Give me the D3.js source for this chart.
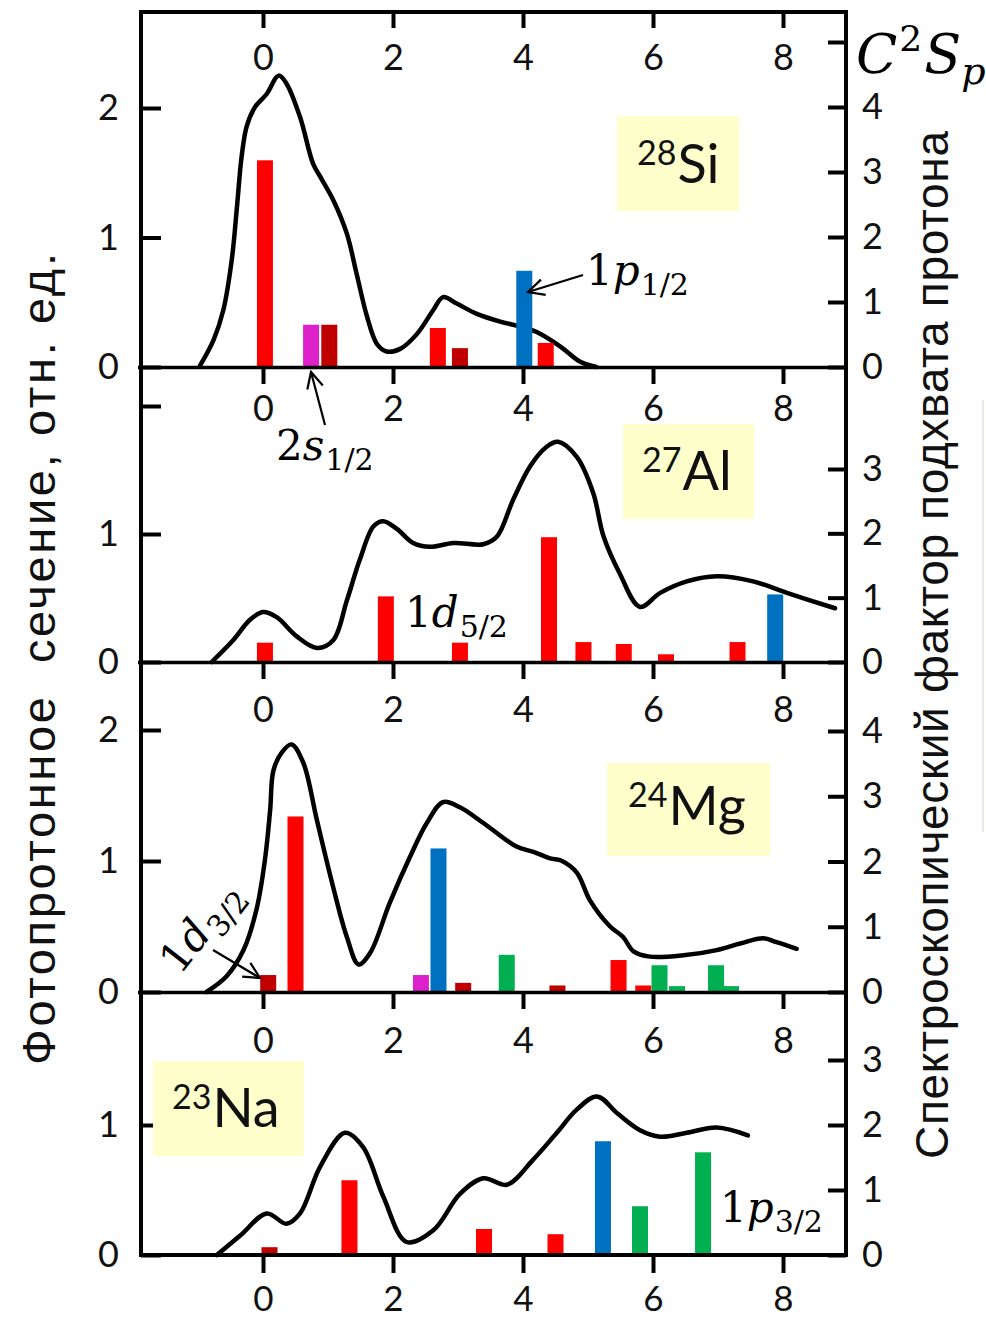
<!DOCTYPE html>
<html><head><meta charset="utf-8">
<script src="https://cdn.jsdelivr.net/npm/d3@7"></script>
<style>
html,body{margin:0;padding:0;background:#fff;}
svg{display:block;}
</style></head>
<body>
<svg id="chart" width="986" height="1317"></svg>
<script>
// ---------------- DATA ----------------
const xTicks = [0, 2, 4, 6, 8];
const shellNames = ["1d5/2", "1d3/2", "2s1/2", "1p1/2", "1p3/2"];
const shellColors = ["#ff0000", "#c00000", "#dd22cc", "#0070c0", "#00b050"];

// 28Si
const siCurveE = [-0.97,-0.76,-0.61,-0.48,-0.40,-0.33,-0.25,-0.12,0.06,0.24,0.36,0.57,0.77,0.88,1.08,1.29,1.44,1.60,1.75,1.90,2.11,2.36,2.62,2.77,2.98,3.29,3.65,3.90,4.05,4.21,4.57,4.88,5.13];
const siCurveV = [0.01,0.21,0.44,0.83,1.24,1.62,1.86,2.01,2.11,2.25,2.19,1.93,1.57,1.47,1.29,1.03,0.72,0.39,0.18,0.12,0.14,0.25,0.44,0.54,0.49,0.41,0.35,0.32,0.30,0.27,0.16,0.04,0.0];
const siBarE = [0.03,0.74,1.02,2.69,3.03,4.02,4.35];
const siBarC = [3.18,0.65,0.65,0.60,0.29,1.48,0.37];
const siBarShell = ["1d5/2","2s1/2","1d3/2","1d5/2","1d3/2","1p1/2","1d5/2"];

// 27Al
const alCurveE = [-0.79,-0.46,-0.20,0.0,0.21,0.52,0.83,1.08,1.29,1.49,1.70,1.85,2.06,2.31,2.57,2.93,3.39,3.60,3.85,4.11,4.36,4.54,4.83,5.08,5.24,5.49,5.80,6.11,6.52,6.98,7.54,8.06,8.80];
const alCurveV = [0.0,0.17,0.33,0.39,0.35,0.20,0.11,0.17,0.48,0.80,1.06,1.10,1.04,0.93,0.90,0.93,0.92,0.98,1.27,1.53,1.68,1.72,1.60,1.32,0.98,0.69,0.43,0.54,0.63,0.67,0.63,0.54,0.42];
const alBarE = [0.03,1.89,3.03,4.40,4.93,5.55,6.20,7.30,7.88];
const alBarC = [0.30,1.02,0.30,1.94,0.31,0.28,0.12,0.31,1.05];
const alBarShell = ["1d5/2","1d5/2","1d5/2","1d5/2","1d5/2","1d5/2","1d5/2","1d5/2","1p1/2"];

// 24Mg
const mgCurveE = [-0.87,-0.56,-0.30,-0.10,0.03,0.11,0.16,0.29,0.44,0.62,0.83,1.08,1.29,1.47,1.65,1.95,2.26,2.52,2.77,3.03,3.39,3.90,4.16,4.42,4.60,4.83,5.03,5.34,5.54,5.70,5.95,6.47,6.98,7.34,7.70,7.90,8.21];
const mgCurveV = [0.0,0.12,0.32,0.63,1.01,1.39,1.69,1.83,1.89,1.75,1.31,0.80,0.42,0.21,0.30,0.68,1.03,1.29,1.45,1.41,1.29,1.11,1.07,1.02,1.00,0.91,0.70,0.50,0.42,0.31,0.27,0.28,0.32,0.37,0.41,0.38,0.33];
const mgBarE = [0.08,0.50,2.43,2.70,3.08,3.75,4.53,5.47,5.85,6.10,6.37,6.97,7.20];
const mgBarC = [0.26,2.69,0.26,2.20,0.14,0.57,0.10,0.49,0.10,0.41,0.09,0.41,0.09];
const mgBarShell = ["1d3/2","1d5/2","2s1/2","1p1/2","1d3/2","1p3/2","1d3/2","1d5/2","1d5/2","1p3/2","1p3/2","1p3/2","1p3/2"];

// 23Na
const naCurveE = [-0.71,-0.35,0.06,0.36,0.57,0.88,1.26,1.54,1.85,2.21,2.62,3.03,3.39,3.75,4.15,4.52,4.83,5.14,5.45,5.80,6.11,6.52,6.98,7.46];
const naCurveV = [0.0,0.15,0.32,0.24,0.32,0.68,0.94,0.83,0.45,0.10,0.19,0.47,0.59,0.54,0.73,0.94,1.12,1.22,1.09,0.96,0.91,0.94,0.98,0.92];
const naBarE = [0.10,1.33,3.40,4.50,5.23,5.80,6.77];
const naBarC = [0.12,1.15,0.40,0.32,1.75,0.75,1.58];
const naBarShell = ["1d3/2","1d5/2","1d5/2","1d5/2","1p1/2","1p3/2","1p3/2"];

const leftTicksSi = [0,1,2], rightTicksSi = [0,1,2,3,4,5];
const leftTicksAl = [0,1,2], rightTicksAl = [0,1,2,3];
const leftTicksMg = [0,1,2], rightTicksMg = [0,1,2,3,4];
const leftTicksNa = [0,1],   rightTicksNa = [0,1,2,3];

// ---------------- LAYOUT ----------------
const svg = d3.select("#chart");
const FL = 141, FR = 846, FT = 12;
const x = d3.scaleLinear().domain([0, 8]).range([263, 783]);
const color = d3.scaleOrdinal().domain(shellNames).range(shellColors);
const tickFont = "Lato, 'Open Sans', sans-serif";

const panels = [
  {name:"Si", top:FT,  base:367,  lMax:2, lPx:108,  rMax:4, rPx:107,  cE:siCurveE, cV:siCurveV, bE:siBarE, bC:siBarC, bS:siBarShell, lT:leftTicksSi, rT:rightTicksSi, rLabelSkip:[5], lLabelSkip:[], xPad:16},
  {name:"Al", top:368, base:662,  lMax:1, lPx:534,  rMax:3, rPx:469,  cE:alCurveE, cV:alCurveV, bE:alBarE, bC:alBarC, bS:alBarShell, lT:leftTicksAl, rT:rightTicksAl, rLabelSkip:[], lLabelSkip:[2], xPad:11},
  {name:"Mg", top:663, base:992,  lMax:2, lPx:730,  rMax:4, rPx:731,  cE:mgCurveE, cV:mgCurveV, bE:mgBarE, bC:mgBarC, bS:mgBarShell, lT:leftTicksMg, rT:rightTicksMg, rLabelSkip:[], lLabelSkip:[], xPad:17},
  {name:"Na", top:993, base:1255, lMax:1, lPx:1125, rMax:3, rPx:1060, cE:naCurveE, cV:naCurveV, bE:naBarE, bC:naBarC, bS:naBarShell, lT:leftTicksNa, rT:rightTicksNa, rLabelSkip:[], lLabelSkip:[], xPad:18}
];

// faint scan artefact line at right
svg.append("line").attr("x1",983).attr("x2",983).attr("y1",400).attr("y2",832)
  .attr("stroke","#ecebe2").attr("stroke-width",2);

panels.forEach(p => {
  const yL = d3.scaleLinear().domain([0, p.lMax]).range([p.base, p.lPx]);
  const yR = d3.scaleLinear().domain([0, p.rMax]).range([p.base, p.rPx]);
  const g = svg.append("g");

  // curve
  const line = d3.line().x((d,i)=>x(p.cE[i])).y((d,i)=>yL(p.cV[i])).curve(d3.curveCatmullRom.alpha(0.5));
  g.append("path").datum(p.cE).attr("d", line).attr("fill","none")
    .attr("stroke","#000").attr("stroke-width",4.5).attr("stroke-linejoin","round").attr("stroke-linecap","round");

  // bars
  g.selectAll("rect.bar").data(p.bE).join("rect").attr("class","bar")
    .attr("x",(d)=>x(d)-8).attr("width",16)
    .attr("y",(d,i)=>yR(p.bC[i])).attr("height",(d,i)=>p.base - yR(p.bC[i]))
    .attr("fill",(d,i)=>color(p.bS[i]));

  // top x axis (ticks pointing down into panel)
  const ax = d3.axisBottom(x).tickValues(xTicks).tickSize(16).tickPadding(p.xPad).tickFormat(d3.format("d"));
  const gx = g.append("g").attr("transform",`translate(0,${p.top})`).call(ax);
  gx.select(".domain").remove();
  gx.selectAll(".tick line").attr("stroke","#000").attr("stroke-width",4);
  gx.selectAll(".tick text").attr("font-family",tickFont).attr("font-size",36).attr("fill","#111");

  // left axis
  const axL = d3.axisLeft(yL).tickValues(p.lT).tickSize(-20).tickPadding(22)
    .tickFormat(d=>p.lLabelSkip.includes(d)?"":d3.format("d")(d));
  const gl = g.append("g").attr("transform",`translate(${FL},0)`).call(axL);
  gl.select(".domain").remove();
  gl.selectAll(".tick line").attr("stroke","#000").attr("stroke-width",4);
  gl.selectAll(".tick text").attr("font-family",tickFont).attr("font-size",36).attr("fill","#111");

  // right axis
  const axR = d3.axisRight(yR).tickValues(p.rT).tickSize(-18).tickPadding(16)
    .tickFormat(d=>p.rLabelSkip.includes(d)?"":d3.format("d")(d));
  const gr = g.append("g").attr("transform",`translate(${FR},0)`).call(axR);
  gr.select(".domain").remove();
  gr.selectAll(".tick line").attr("stroke","#000").attr("stroke-width",4);
  gr.selectAll(".tick text").attr("font-family",tickFont).attr("font-size",36).attr("fill","#111");
});

// bottom x axis
const pNa = panels[3];
const axB = d3.axisBottom(x).tickValues(xTicks).tickSize(18).tickPadding(13).tickFormat(d3.format("d"));
const gb = svg.append("g").attr("transform",`translate(0,${pNa.base})`).call(axB);
gb.select(".domain").remove();
gb.selectAll(".tick line").attr("stroke","#000").attr("stroke-width",4);
gb.selectAll(".tick text").attr("font-family",tickFont).attr("font-size",35).attr("fill","#111");

// frame and dividers
const frame = svg.append("g").attr("stroke","#000").attr("fill","none");
frame.append("rect").attr("x",FL).attr("y",FT).attr("width",FR-FL).attr("height",1255-FT).attr("stroke-width",4);
[367.5, 662.5, 992.5].forEach(yy => frame.append("line").attr("x1",FL-3).attr("x2",FR).attr("y1",yy).attr("y2",yy).attr("stroke-width",3.5));

// nucleus labels
const boxes = [
  {sup:"28", el:"Si", bx:617, by:116, bw:122, bh:95,  tx:637, ty:183},
  {sup:"27", el:"Al", bx:623, by:424, bw:131, bh:95,  tx:642, ty:490},
  {sup:"24", el:"Mg", bx:607, by:763, bw:163, bh:93,  tx:628, ty:825},
  {sup:"23", el:"Na", bx:153, by:1061, bw:151, bh:95, tx:172, ty:1127}
];
boxes.forEach(b => {
  svg.append("rect").attr("x",b.bx).attr("y",b.by).attr("width",b.bw).attr("height",b.bh).attr("fill","#ffffcc");
  const t = svg.append("text").attr("x",b.tx).attr("y",b.ty).attr("font-family",tickFont).attr("fill","#111");
  t.append("tspan").attr("font-size",34).attr("dy",-18).text(b.sup);
  t.append("tspan").attr("font-size",54).attr("dy",18).attr("dx",1).text(b.el);
});

// annotation labels
const serif = "'DejaVu Serif', 'Liberation Serif', serif";
function shellLabel(xp, yp, num, letter, sub, rot) {
  const t = svg.append("text").attr("x",xp).attr("y",yp).attr("font-family",serif).attr("font-size",42).attr("fill","#000");
  if (rot) t.attr("transform",`rotate(${rot},${xp},${yp})`);
  t.append("tspan").text(num);
  t.append("tspan").attr("font-style","italic").text(letter);
  t.append("tspan").attr("font-size",30).attr("dy",10).attr("dx",1).text(sub);
}
shellLabel(586, 285, "1", "p", "1/2");
shellLabel(276, 460, "2", "s", "1/2");
shellLabel(405, 627, "1", "d", "5/2");
shellLabel(720, 1222, "1", "p", "3/2");
shellLabel(180, 976, "1", "d", "3/2", -52);

// arrows
svg.append("defs").append("marker").attr("id","arr").attr("viewBox","0 0 20 20")
  .attr("refX",18).attr("refY",10).attr("markerWidth",20).attr("markerHeight",20)
  .attr("markerUnits","userSpaceOnUse").attr("orient","auto")
  .append("path").attr("d","M2,2 L18,10 L2,18").attr("fill","none").attr("stroke","#000").attr("stroke-width",2.2);
const arrows = [[583,275,528,292],[325,425,311,372],[213,950,260,978]];
arrows.forEach(a => svg.append("line").attr("x1",a[0]).attr("y1",a[1]).attr("x2",a[2]).attr("y2",a[3])
  .attr("stroke","#000").attr("stroke-width",2.2).attr("marker-end","url(#arr)"));

// C^2 S_p
const cs = svg.append("text").attr("x",856).attr("y",73).attr("font-family",serif).attr("font-style","italic").attr("font-size",54).attr("fill","#000");
cs.append("tspan").text("C");
cs.append("tspan").attr("font-style","normal").attr("font-size",36).attr("dy",-22).attr("dx",2).text("2");
cs.append("tspan").attr("dy",22).attr("dx",2).text("S");
cs.append("tspan").attr("font-size",38).attr("dy",11).text("p");

// axis titles
const sans = "'Liberation Sans', Arial, sans-serif";
svg.append("text").attr("transform","translate(55,659) rotate(-90)").attr("text-anchor","middle")
  .attr("font-family",sans).attr("font-size",47).attr("fill","#111").style("white-space","pre")
  .attr("textLength",812).attr("lengthAdjust","spacing")
  .text("Фотопротонное  сечение, отн. ед.");
svg.append("text").attr("transform","translate(948,645) rotate(-90)").attr("text-anchor","middle")
  .attr("font-family",sans).attr("font-size",46).attr("fill","#111")
  .attr("textLength",1028).attr("lengthAdjust","spacing")
  .text("Спектроскопический фактор подхвата протона");
</script>
</body></html>
